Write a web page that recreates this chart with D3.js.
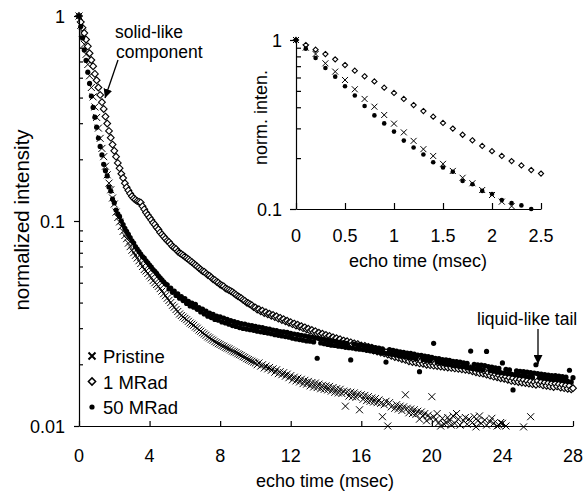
<!DOCTYPE html>
<html>
<head>
<meta charset="utf-8">
<script src="https://cdn.jsdelivr.net/npm/d3@7"></script>
<style>
  body { margin: 0; background: #fff; }
  svg { display: block; font-family: Arial, "Liberation Sans", sans-serif; }
  .domain, .tick line { stroke: #000; stroke-width: 1.2px; }
  .tick text { fill: #000; }
</style>
</head>
<body>
<div id="chart"></div>
<script>
// echo times are sampled every 0.1 msec, 0 .. 28
var echoStep = 0.1;

var seriesNames = ["Pristine", "1 MRad", "50 MRad"];

// Pristine (one row per msec)
var pristine = [
  1, 0.901, 0.826, 0.728, 0.650, 0.580, 0.511, 0.448, 0.403, 0.360,
  0.320, 0.284, 0.253, 0.226, 0.206, 0.185, 0.168, 0.153, 0.142, 0.1295,
  0.121, 0.1105, 0.104, 0.099, 0.094, 0.089, 0.085, 0.082, 0.078, 0.075,
  0.072, 0.070, 0.068, 0.066, 0.064, 0.062, 0.060, 0.058, 0.057, 0.0555,
  0.054, 0.0528, 0.0512, 0.050, 0.049, 0.048, 0.0468, 0.0455, 0.0442, 0.0432,
  0.042, 0.041, 0.040, 0.0388, 0.038, 0.037, 0.0362, 0.0352, 0.0346, 0.034,
  0.0335, 0.033, 0.0324, 0.0318, 0.0314, 0.031, 0.0304, 0.030, 0.0294, 0.029,
  0.0285, 0.0281, 0.0277, 0.0272, 0.0269, 0.0265, 0.0262, 0.0258, 0.0255, 0.0252,
  0.025, 0.0247, 0.0245, 0.0242, 0.024, 0.0238, 0.0235, 0.0232, 0.0230, 0.0228,
  0.0225, 0.0223, 0.0221, 0.0218, 0.0216, 0.0213, 0.0211, 0.0209, 0.0207, 0.0205,
  0.0203, 0.0199, 0.0203, 0.0196, 0.0199, 0.0192, 0.0196, 0.0190, 0.0193, 0.0187,
  0.0190, 0.0183, 0.0188, 0.0180, 0.0184, 0.0178, 0.0182, 0.0175, 0.0179, 0.0172,
  0.0176, 0.0168, 0.0173, 0.0166, 0.0171, 0.0164, 0.0169, 0.0161, 0.0167, 0.0160,
  0.0165, 0.0157, 0.0163, 0.0155, 0.0162, 0.0154, 0.0160, 0.0152, 0.0158, 0.0151,
  0.0157, 0.0150, 0.0156, 0.0148, 0.0154, 0.0146, 0.0152, 0.0145, 0.0151, 0.0144,
  0.0148, 0.0125, 0.0147, 0.0140, 0.0146, 0.0139, 0.0145, 0.0138, 0.0143, 0.0120,
  0.0142, 0.0135, 0.0141, 0.0133, 0.0139, 0.0132, 0.0137, 0.0131, 0.0136, 0.0130,
  0.0134, 0.0129, 0.0111, 0.0127, 0.0132, 0.0100, 0.0130, 0.0124, 0.0098, 0.0122,
  0.0127, 0.0121, 0.0125, 0.0119, 0.0124, 0.0142, 0.0122, 0.0116, 0.0121, 0.0115,
  0.0120, 0.0114, 0.0118, 0.0108, 0.0117, 0.0112, 0.0115, 0.0106, 0.0113, 0.0109,
  0.0139, 0.0111, 0.0107, 0.0115, 0.0104, 0.0100, 0.0109, 0.0102, 0.0104, 0.0110,
  0.0106, 0.0101, 0.0112, 0.0103, 0.0115, 0.0108, 0.0101, 0.0097, 0.0106, 0.0110,
  0.0102, 0.0108, 0.0096, 0.0104, 0.0111, 0.0099, 0.0106, 0.0112, 0.0103, 0.0098,
  0.0107, 0.0101, 0.0094, 0.0105, 0.0109, 0.0103, 0.0096, 0.0100, 0.0101, 0.0104,
  0.0103, 0.0095, 0.0100, 0.0093, 0.0097, 0.0091, 0.0096, 0.0094, 0.0090, 0.0095,
  0.0092, 0.0096, 0.0099, 0.0093, 0.0089, 0.0094, 0.0111, 0.0090, 0.0092, 0.0088,
  0.0091, 0.0087, 0.0093, 0.0089, 0.0086, 0.0092, 0.0088, 0.0085, 0.0090, 0.0087,
  0.0084, 0.0089, 0.0086, 0.0083, 0.0088, 0.0085, 0.0082, 0.0087, 0.0084, 0.0081,
  0.0086
];

// 1 MRad
var mrad1 = [
  1, 0.934, 0.877, 0.826, 0.768, 0.711, 0.658, 0.610, 0.569, 0.522,
  0.486, 0.448, 0.412, 0.380, 0.352, 0.323, 0.299, 0.275, 0.255, 0.236,
  0.220, 0.206, 0.192, 0.181, 0.170, 0.162, 0.153, 0.146, 0.141, 0.136,
  0.132, 0.129, 0.127, 0.125, 0.124, 0.123, 0.118, 0.114, 0.110, 0.107,
  0.104, 0.101, 0.098, 0.096, 0.093, 0.091, 0.088, 0.086, 0.084, 0.082,
  0.080, 0.079, 0.077, 0.075, 0.074, 0.073, 0.071, 0.070, 0.069, 0.068,
  0.067, 0.066, 0.065, 0.064, 0.063, 0.062, 0.061, 0.060, 0.059, 0.058,
  0.057, 0.0565, 0.0555, 0.0545, 0.054, 0.053, 0.052, 0.0515, 0.0505, 0.050,
  0.049, 0.0485, 0.048, 0.047, 0.0465, 0.046, 0.0455, 0.045, 0.0443, 0.0437,
  0.043, 0.0425, 0.042, 0.0413, 0.0408, 0.040, 0.0397, 0.0392, 0.0388, 0.038,
  0.0378, 0.0370, 0.0371, 0.0363, 0.0365, 0.0356, 0.0359, 0.0351, 0.0353, 0.0345,
  0.0348, 0.0340, 0.0343, 0.0334, 0.0337, 0.0329, 0.0332, 0.0324, 0.0326, 0.0319,
  0.0321, 0.0314, 0.0316, 0.0309, 0.0312, 0.0305, 0.0307, 0.0300, 0.0303, 0.0296,
  0.0298, 0.0291, 0.0294, 0.0287, 0.0290, 0.0282, 0.0285, 0.0279, 0.0282, 0.0275,
  0.0278, 0.0272, 0.0275, 0.0268, 0.0271, 0.0265, 0.0268, 0.0262, 0.0265, 0.0258,
  0.0261, 0.0255, 0.0259, 0.0252, 0.0256, 0.0250, 0.0253, 0.0247, 0.0251, 0.0244,
  0.0247, 0.0241, 0.0246, 0.0238, 0.0243, 0.0236, 0.0241, 0.0233, 0.0237, 0.0231,
  0.0235, 0.0228, 0.0232, 0.0226, 0.0229, 0.0223, 0.0227, 0.0220, 0.0224, 0.0217,
  0.0221, 0.0215, 0.0219, 0.0212, 0.0216, 0.0210, 0.0214, 0.0207, 0.0212, 0.0205,
  0.0210, 0.0204, 0.0209, 0.0202, 0.0207, 0.0201, 0.0206, 0.0199, 0.0204, 0.0198,
  0.0203, 0.0197, 0.0202, 0.0196, 0.0201, 0.0195, 0.0200, 0.0194, 0.0199, 0.0193,
  0.0198, 0.0192, 0.0197, 0.0191, 0.0196, 0.0190, 0.0195, 0.0189, 0.0194, 0.0188,
  0.0193, 0.0187, 0.0191, 0.0185, 0.0189, 0.0183, 0.0188, 0.0181, 0.0186, 0.0180,
  0.0184, 0.0178, 0.0182, 0.0176, 0.0181, 0.0174, 0.0179, 0.0173, 0.0177, 0.0171,
  0.0175, 0.0170, 0.0174, 0.0168, 0.0172, 0.0166, 0.0171, 0.0165, 0.0169, 0.0164,
  0.0169, 0.0163, 0.0168, 0.0162, 0.0166, 0.0161, 0.0165, 0.0160, 0.0164, 0.0159,
  0.0166, 0.0160, 0.0164, 0.0158, 0.0163, 0.0157, 0.0162, 0.0156, 0.0161, 0.0155,
  0.0161, 0.0156, 0.0160, 0.0154, 0.0159, 0.0153, 0.0158, 0.0152, 0.0157, 0.0151,
  0.0153
];

// 50 MRad
var mrad50 = [
  1, 0.889, 0.782, 0.683, 0.607, 0.532, 0.469, 0.407, 0.358, 0.321,
  0.287, 0.254, 0.231, 0.210, 0.189, 0.176, 0.166, 0.1465, 0.140, 0.128,
  0.1227, 0.113, 0.1085, 0.105, 0.100, 0.096, 0.092, 0.089, 0.086, 0.083,
  0.080, 0.078, 0.075, 0.073, 0.071, 0.069, 0.067, 0.066, 0.064, 0.0625,
  0.061, 0.0595, 0.058, 0.0568, 0.0555, 0.054, 0.0528, 0.0516, 0.0505, 0.0493,
  0.0488, 0.0466, 0.0470, 0.0449, 0.0455, 0.0433, 0.0441, 0.0420, 0.0428, 0.0409,
  0.0418, 0.0396, 0.0405, 0.0385, 0.0398, 0.0380, 0.0392, 0.0371, 0.0378, 0.0360,
  0.0372, 0.0352, 0.0363, 0.0343, 0.0355, 0.0338, 0.0350, 0.0331, 0.0344, 0.0328,
  0.0341, 0.0322, 0.0336, 0.0318, 0.0331, 0.0314, 0.0327, 0.0309, 0.0323, 0.0306,
  0.0319, 0.0302, 0.0316, 0.0299, 0.0314, 0.0297, 0.0311, 0.0295, 0.0309, 0.0293,
  0.0306, 0.0290, 0.0304, 0.0288, 0.0302, 0.0286, 0.0299, 0.0284, 0.0297, 0.0282,
  0.0294, 0.0279, 0.0292, 0.0277, 0.0289, 0.0275, 0.0288, 0.0273, 0.0286, 0.0271,
  0.0283, 0.0268, 0.0281, 0.0266, 0.0279, 0.0264, 0.0277, 0.0262, 0.0275, 0.0260,
  0.0273, 0.0259, 0.0271, 0.0257, 0.0269, 0.0214, 0.0267, 0.0254, 0.0265, 0.0252,
  0.0263, 0.0250, 0.0261, 0.0248, 0.0259, 0.0247, 0.0258, 0.0245, 0.0256, 0.0244,
  0.0255, 0.0242, 0.0253, 0.0241, 0.0210, 0.0240, 0.0251, 0.0238, 0.0249, 0.0237,
  0.0248, 0.0236, 0.0246, 0.0234, 0.0245, 0.0233, 0.0243, 0.0231, 0.0241, 0.0230,
  0.0240, 0.0228, 0.0238, 0.0227, 0.0205, 0.0226, 0.0236, 0.0224, 0.0234, 0.0223,
  0.0232, 0.0221, 0.0230, 0.0219, 0.0229, 0.0218, 0.0227, 0.0216, 0.0226, 0.0215,
  0.0224, 0.0213, 0.0222, 0.0184, 0.0221, 0.0211, 0.0219, 0.0209, 0.0218, 0.0208,
  0.0216, 0.0253, 0.0214, 0.0205, 0.0213, 0.0203, 0.0211, 0.0202, 0.0210, 0.0200,
  0.0209, 0.0199, 0.0207, 0.0197, 0.0206, 0.0196, 0.0205, 0.0195, 0.0203, 0.0194,
  0.0202, 0.0192, 0.0232, 0.0191, 0.0200, 0.0190, 0.0199, 0.0189, 0.0198, 0.0188,
  0.0197, 0.0231, 0.0195, 0.0186, 0.0194, 0.0185, 0.0192, 0.0183, 0.0191, 0.0182,
  0.0203, 0.0181, 0.0189, 0.0180, 0.0188, 0.0179, 0.0150, 0.0178, 0.0186, 0.0177,
  0.0185, 0.0176, 0.0184, 0.0175, 0.0183, 0.0174, 0.0182, 0.0173, 0.0181, 0.0199,
  0.0180, 0.0172, 0.0179, 0.0171, 0.0178, 0.0170, 0.0177, 0.0169, 0.0176, 0.0168,
  0.0176, 0.0168, 0.0175, 0.0167, 0.0174, 0.0166, 0.0173, 0.0165, 0.0187, 0.0164,
  0.0172
];

// tick labels
var xTicks = [0, 4, 8, 12, 16, 20, 24, 28];
var yTicks = [0.01, 0.1, 1];
var yMinor = [0.02, 0.03, 0.04, 0.05, 0.06, 0.07, 0.08, 0.09, 0.2, 0.3, 0.4, 0.5, 0.6, 0.7, 0.8, 0.9];
var insetXTicks = [0, 0.5, 1, 1.5, 2, 2.5];
var insetYTicks = [0.1, 1];
var insetYMinor = [0.2, 0.3, 0.4, 0.5, 0.6, 0.7, 0.8, 0.9];

function toPoints(values) {
  return values.map(function(v, i) { return { t: i * echoStep, v: v }; });
}
var series = [
  { name: seriesNames[0], shape: "cross", data: toPoints(pristine) },
  { name: seriesNames[1], shape: "diamond", data: toPoints(mrad1) },
  { name: seriesNames[2], shape: "dot", data: toPoints(mrad50) }
];

var w = 584, h = 493;
var svg = d3.select("#chart").append("svg")
  .attr("width", w)
  .attr("height", h);

// marker drawing, s = half size
function drawMarkers(g, data, shape, s, xs, ys) {
  var sel = g.selectAll("." + shape).data(data).enter();
  if (shape === "dot") {
    sel.append("circle")
      .attr("cx", d => xs(d.t))
      .attr("cy", d => ys(d.v))
      .attr("r", s)
      .attr("fill", "#000");
  } else if (shape === "cross") {
    sel.append("path")
      .attr("transform", d => "translate(" + xs(d.t) + "," + ys(d.v) + ")")
      .attr("d", "M" + (-s) + "," + (-s) + "L" + s + "," + s + "M" + (-s) + "," + s + "L" + s + "," + (-s))
      .attr("stroke", "#000")
      .attr("stroke-width", 1)
      .attr("fill", "none");
  } else {
    sel.append("path")
      .attr("transform", d => "translate(" + xs(d.t) + "," + ys(d.v) + ")")
      .attr("d", "M0," + (-s) + "L" + s + ",0L0," + s + "L" + (-s) + ",0Z")
      .attr("stroke", "#000")
      .attr("stroke-width", 1.1)
      .attr("fill", "#fff");
  }
}

// x tick labels as plain texts placed with the scale
function xLabels(ticks, xs, baseline) {
  svg.append("g").selectAll("text")
    .data(ticks)
    .enter().append("text")
    .attr("x", d => xs(d))
    .attr("y", baseline)
    .attr("text-anchor", "middle")
    .attr("font-size", 18)
    .text(d => String(d));
}

// y tick labels: plain pixel offsets instead of em shifts
function fixLabels(axisG, yPos) {
  axisG.attr("font-family", null).attr("font-size", null);
  axisG.selectAll(".tick text")
    .attr("font-size", 18)
    .attr("dy", null)
    .attr("y", yPos);
}

// ---------- main chart ----------
var margin = { top: 16, right: 11, bottom: 67, left: 79 };
var innerWidth = w - margin.left - margin.right;
var innerHeight = h - margin.top - margin.bottom;

var xScale = d3.scaleLinear().domain([0, 28]).range([margin.left, margin.left + innerWidth]);
var yScale = d3.scaleLog().domain([0.01, 1]).range([margin.top + innerHeight, margin.top]);

var mainSizes = { cross: 3.5, diamond: 3.4, dot: 2.6 };
series.forEach(function(s) {
  var g = svg.append("g").attr("class", "series");
  drawMarkers(g, s.data.filter(d => d.v >= 0.0099 && d.t <= 28), s.shape, mainSizes[s.shape], xScale, yScale);
});

svg.append("g")
  .attr("transform", "translate(0," + (margin.top + innerHeight) + ")")
  .call(d3.axisBottom(xScale).tickValues(xTicks).tickFormat("").tickSizeInner(-5).tickSizeOuter(0))
  .call(g => g.selectAll(".tick text").remove());
xLabels(xTicks, xScale, margin.top + innerHeight + 35.5);

var yAxisG = svg.append("g")
  .attr("transform", "translate(" + margin.left + ",0)")
  .call(d3.axisLeft(yScale).tickValues(yTicks).tickFormat(d => String(d)).tickSizeInner(5).tickSizeOuter(0).tickPadding(9));
fixLabels(yAxisG, 6.4);

svg.append("g")
  .attr("transform", "translate(" + margin.left + ",0)")
  .call(d3.axisRight(yScale).tickValues(yMinor).tickFormat("").tickSizeInner(4).tickSizeOuter(0))
  .call(g => g.select(".domain").remove())
  .call(g => g.selectAll(".tick text").remove());

svg.append("text")
  .attr("x", 325)
  .attr("y", 486.5)
  .attr("text-anchor", "middle")
  .attr("font-size", 18)
  .text("echo time (msec)");

svg.append("text")
  .attr("transform", "translate(29,220) rotate(-90)")
  .attr("text-anchor", "middle")
  .attr("font-size", 20.5)
  .text("normalized intensity");

// legend
var legend = svg.selectAll(".legend")
  .data(series)
  .enter().append("g")
  .attr("class", "legend")
  .attr("transform", function(d, i) { return "translate(92," + (356 + i * 25.5) + ")"; });

legend.each(function(d) {
  var g = d3.select(this);
  if (d.shape === "dot") {
    g.append("circle").attr("r", 2.6).attr("fill", "#000");
  } else if (d.shape === "cross") {
    g.append("path").attr("d", "M-3.5,-3.5L3.5,3.5M-3.5,3.5L3.5,-3.5")
      .attr("stroke", "#000").attr("stroke-width", 2);
  } else {
    g.append("path").attr("d", "M0,-3.6L3.6,0L0,3.6L-3.6,0Z")
      .attr("stroke", "#000").attr("stroke-width", 1.5).attr("fill", "#fff");
  }
  g.append("text")
    .attr("x", 11)
    .attr("y", 7)
    .attr("font-size", 18.5)
    .text(d.name);
});

// annotations
svg.append("defs").append("marker")
  .attr("id", "head")
  .attr("viewBox", "0 0 10 10")
  .attr("refX", 10).attr("refY", 5)
  .attr("markerWidth", 9).attr("markerHeight", 9)
  .attr("markerUnits", "userSpaceOnUse")
  .attr("orient", "auto")
  .append("path").attr("d", "M0,0L10,5L0,10Z").attr("fill", "#000");

svg.append("text").attr("x", 115).attr("y", 38).attr("font-size", 17.5).text("solid-like");
svg.append("text").attr("x", 116).attr("y", 58).attr("font-size", 17.5).text("component");
svg.append("line")
  .attr("x1", 118).attr("y1", 60).attr("x2", 105).attr("y2", 98)
  .attr("stroke", "#000").attr("stroke-width", 1.3)
  .attr("marker-end", "url(#head)");

svg.append("text").attr("x", 477).attr("y", 325).attr("font-size", 17.5).text("liquid-like tail");
svg.append("line")
  .attr("x1", 538).attr("y1", 329).attr("x2", 538).attr("y2", 364)
  .attr("stroke", "#000").attr("stroke-width", 1.3)
  .attr("marker-end", "url(#head)");

// ---------- inset ----------
var ix = d3.scaleLinear().domain([0, 2.5]).range([296, 541]);
var iy = d3.scaleLog().domain([0.1, 1]).range([209, 40]);

var insetSizes = { cross: 3, diamond: 2.6, dot: 2.3 };
series.forEach(function(s) {
  var g = svg.append("g").attr("class", "inset-series");
  drawMarkers(g, s.data.filter(d => d.t <= 2.5001 && d.v >= 0.0999), s.shape, insetSizes[s.shape], ix, iy);
});

svg.append("g")
  .attr("transform", "translate(0,209)")
  .call(d3.axisBottom(ix).tickValues(insetXTicks).tickFormat("").tickSizeInner(-6).tickSizeOuter(0))
  .call(g => g.selectAll(".tick text").remove());
xLabels(insetXTicks, ix, 209 + 32.5);

var iyAxisG = svg.append("g")
  .attr("transform", "translate(296,0)")
  .call(d3.axisLeft(iy).tickValues(insetYTicks).tickFormat(d => String(d)).tickSizeInner(6).tickSizeOuter(0).tickPadding(8));
fixLabels(iyAxisG, 6.4);

svg.append("g")
  .attr("transform", "translate(296,0)")
  .call(d3.axisRight(iy).tickValues(insetYMinor).tickFormat("").tickSizeInner(5).tickSizeOuter(0))
  .call(g => g.select(".domain").remove())
  .call(g => g.selectAll(".tick text").remove());

svg.append("text")
  .attr("x", 418)
  .attr("y", 266.5)
  .attr("text-anchor", "middle")
  .attr("font-size", 18)
  .text("echo time (msec)");

svg.append("text")
  .attr("transform", "translate(267,117.5) rotate(-90)")
  .attr("text-anchor", "middle")
  .attr("font-size", 18)
  .text("norm. inten.");
</script>
</body>
</html>
